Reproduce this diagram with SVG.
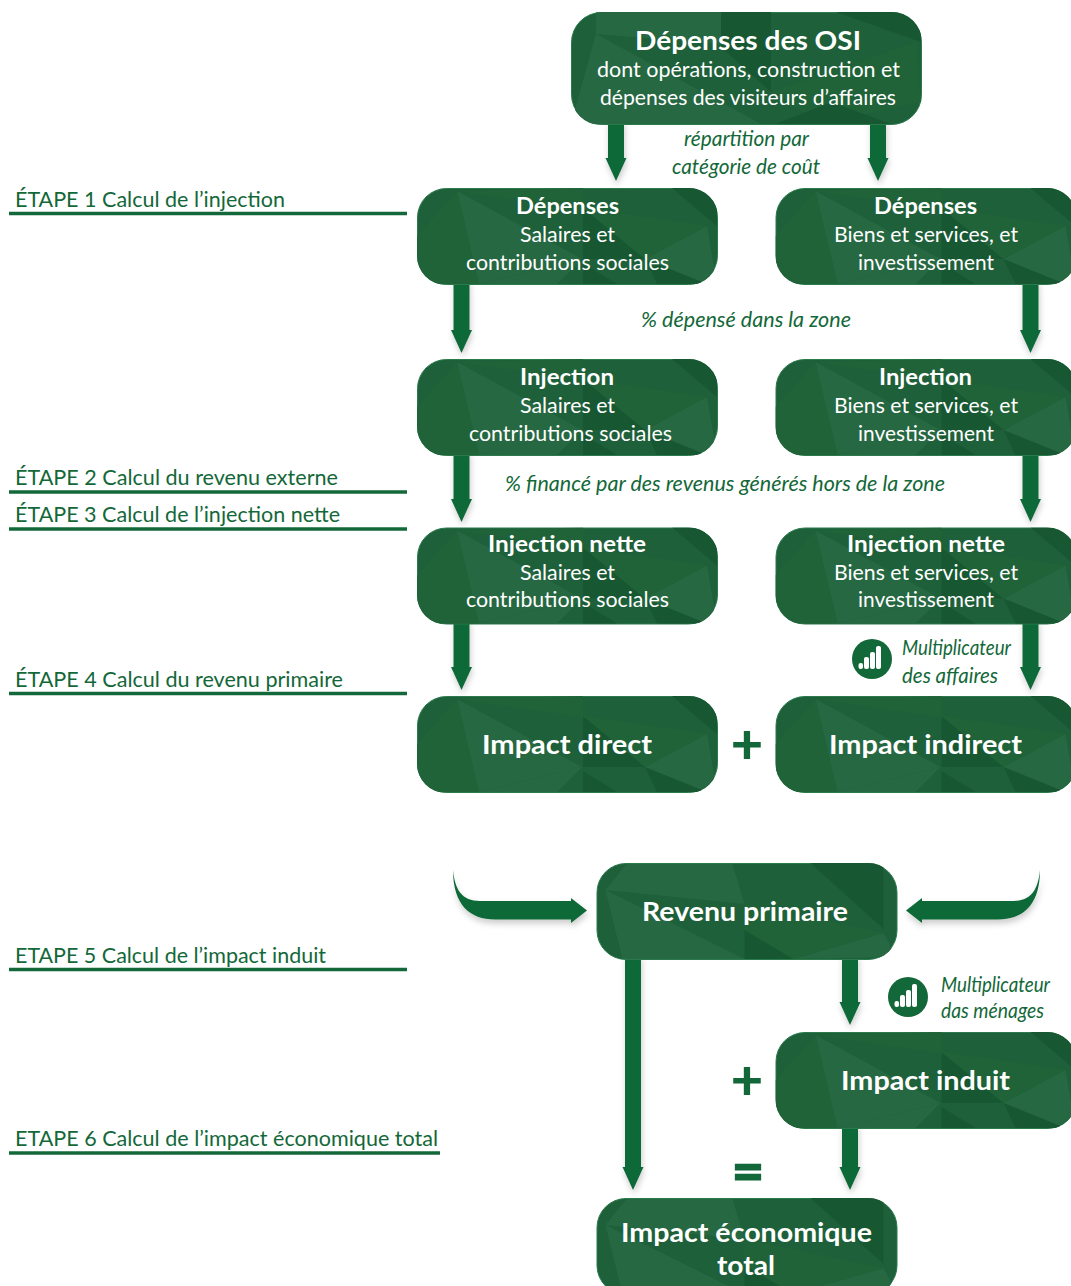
<svg xmlns="http://www.w3.org/2000/svg" width="1071" height="1286" viewBox="0 0 1071 1286">
<style>
text{font-family:"Lato","Open Sans","Liberation Sans",sans-serif;text-anchor:middle}
.h{fill:#fff;font-weight:700;font-size:22px}
.b{fill:#fff;font-weight:700;font-size:27px}
.s{fill:#fff;font-size:21.5px}
.i{fill:#136839;font-style:italic;font-size:21px}
.e{fill:#136839;font-size:22px;text-anchor:start}
.o{fill:#136839;font-size:56px;font-weight:900;text-anchor:middle}
.eq{stroke:#136839;stroke-width:1.2}
.r{stroke:#136839;stroke-width:3.5}
.a{stroke:#116939;stroke-width:16;fill:none;marker-end:url(#ah)}
.c{fill:#116939}
.base{fill:#1e6039;stroke:#2a7a4c;stroke-width:1}
.l{fill:#266842}
.d{fill:#175833}
.m{fill:#206339}
</style>
<defs>
<marker id="ah" markerUnits="userSpaceOnUse" markerWidth="24" markerHeight="24" refX="0" refY="12" orient="auto" viewBox="0 0 24 24"><path d="M0 1.500L23 12L0 22.500Z" fill="#116939"/></marker>
<filter id="sh" x="-5%" y="-5%" width="110%" height="110%"><feDropShadow dx="1" dy="4" stdDeviation="3" flood-color="#000" flood-opacity=".2"/></filter>
<clipPath id="cp"><rect x="0" y="0" width="301" height="97" rx="29"/></clipPath>
<clipPath id="cq"><rect x="0" y="0" width="351" height="113" rx="30"/></clipPath>
<g id="ta">
<rect class="base" x=".5" y=".5" width="300" height="96" rx="29"/>
<g clip-path="url(#cp)">
<polygon class="l" points="40,3 165,71 62,96"/>
<polygon class="m" points="0,48 40,3 62,96 0,96"/>
<polygon class="l" points="165,71 62,96 140,96"/>
<polygon class="d" points="166,20 166,71 228,71"/>
<polygon class="m" points="40,3 166,0 166,20 228,30"/>
<polygon class="l" points="228,71 290,38 300,96 270,96"/>
<polygon class="d" points="228,71 240,96 290,96"/>
<polygon class="d" points="255,0 300,0 300,38"/>
<polygon class="m" points="166,20 290,38 228,71"/>
<polygon class="d" points="166,96 166,75 200,96"/>
</g>
</g>
<g id="tb">
<rect class="base" x=".5" y=".5" width="300" height="96" rx="29"/>
<g clip-path="url(#cp)">
<polygon class="l" points="9,27 148,96 26,96"/>
<polygon class="l" points="30,1 136,1 148,41 9,27"/>
<polygon class="d" points="214,0 287,0 287,66"/>
<polygon class="d" points="148,67 197,96 148,96"/>
<polygon class="l" points="197,96 287,70 300,94"/>
<polygon class="m" points="148,41 148,67 197,96 287,70"/>
</g>
</g>
<g id="tc">
<rect class="base" x=".5" y=".5" width="350" height="112" rx="30"/>
<g clip-path="url(#cq)">
<polygon class="l" points="25,22 190,112 0,112"/>
<polygon class="l" points="25,0 150,0 190,35 25,22"/>
<polygon class="d" points="150,0 200,0 200,80 150,35"/>
<polygon class="m" points="200,80 345,30 350,90 250,112"/>
<polygon class="d" points="265,0 350,0 350,30"/>
<polygon class="d" points="205,112 260,90 320,112"/>
</g>
</g>
<g id="ic">
<circle cx="20" cy="20" r="20" fill="#136839"/>
<rect x="6.500" y="24" width="4.500" height="6" rx="2" fill="#fff"/>
<rect x="12" y="18" width="5" height="12" rx="2" fill="#fff"/>
<rect x="18" y="13" width="5" height="17" rx="2" fill="#fff"/>
<rect x="24" y="7" width="5" height="23" rx="2" fill="#fff"/>
</g>
</defs>

<g id="labels">
<text class="e" x="15" y="207" textLength="270" lengthAdjust="spacingAndGlyphs">ÉTAPE 1 Calcul de l’injection</text><line class="r" x1="9" x2="407" y1="213.500" y2="213.500"/>
<text class="e" x="15" y="485" textLength="323" lengthAdjust="spacingAndGlyphs">ÉTAPE 2 Calcul du revenu externe</text><line class="r" x1="9" x2="407" y1="492" y2="492"/>
<text class="e" x="15" y="522" textLength="325" lengthAdjust="spacingAndGlyphs">ÉTAPE 3 Calcul de l’injection nette</text><line class="r" x1="9" x2="407" y1="529" y2="529"/>
<text class="e" x="15" y="687" textLength="328" lengthAdjust="spacingAndGlyphs">ÉTAPE 4 Calcul du revenu primaire</text><line class="r" x1="9" x2="407" y1="693.500" y2="693.500"/>
<text class="e" x="15" y="963" textLength="311" lengthAdjust="spacingAndGlyphs">ETAPE 5 Calcul de l’impact induit</text><line class="r" x1="9" x2="407" y1="969.500" y2="969.500"/>
<text class="e" x="15" y="1146" textLength="423" lengthAdjust="spacingAndGlyphs">ETAPE 6 Calcul de l’impact économique total</text><line class="r" x1="9" x2="440" y1="1153" y2="1153"/>
</g>

<g id="connectors" filter="url(#sh)">
<line class="a" x1="616" y1="120" x2="616" y2="158"/>
<line class="a" x1="878" y1="120" x2="878" y2="158"/>
<line class="a" x1="461.500" y1="280" x2="461.500" y2="330"/>
<line class="a" x1="1030.500" y1="280" x2="1030.500" y2="330"/>
<line class="a" x1="461.500" y1="451" x2="461.500" y2="499"/>
<line class="a" x1="1030.500" y1="451" x2="1030.500" y2="499"/>
<line class="a" x1="461.500" y1="620" x2="461.500" y2="667"/>
<line class="a" x1="1030.500" y1="620" x2="1030.500" y2="667"/>
<line class="a" x1="633" y1="955" x2="633" y2="1167"/>
<line class="a" x1="850" y1="955" x2="850" y2="1002"/>
<line class="a" x1="850" y1="1124" x2="850" y2="1167"/>
<path class="c" d="M453 870C455 890 462 901 480 901L571 901L571 898L587 910.500L571 923L571 919.500L495 919.500C470 919.500 453 905 453 870Z"/>
<path class="c" d="M1040 870C1038 890 1031 901 1013 901L922 901L922 898L906 910.500L922 923L922 919.500L998 919.500C1023 919.500 1040 905 1040 870Z"/>
</g>

<g id="edge-labels">
<text class="i" x="746.500" y="146" textLength="125" lengthAdjust="spacingAndGlyphs">répartition par</text>
<text class="i" x="746" y="174" textLength="148" lengthAdjust="spacingAndGlyphs">catégorie de coût</text>
<text class="i" x="746" y="327" textLength="210" lengthAdjust="spacingAndGlyphs">% dépensé dans la zone</text>
<text class="i" x="725" y="491" textLength="440" lengthAdjust="spacingAndGlyphs">% financé par des revenus générés hors de la zone</text>
<text class="i" x="956.500" y="655" textLength="109" lengthAdjust="spacingAndGlyphs">Multiplicateur</text>
<text class="i" x="950" y="683" textLength="96" lengthAdjust="spacingAndGlyphs">des affaires</text>
<text class="i" x="995.500" y="992" textLength="109" lengthAdjust="spacingAndGlyphs">Multiplicateur</text>
<text class="i" x="992.500" y="1018" textLength="103" lengthAdjust="spacingAndGlyphs">das ménages</text>
<use href="#ic" x="852" y="639"/>
<use href="#ic" x="888" y="977"/>
<text class="o" x="747" y="764">+</text>
<text class="o" x="747" y="1100">+</text>
<text class="o eq" x="748" y="1191">=</text>
</g>

<g id="n-osi"><use href="#tc" x="571" y="12"/>
<text class="b" x="748" y="49.500" textLength="226" lengthAdjust="spacingAndGlyphs">Dépenses des OSI</text>
<text class="s" x="748.500" y="76.500" textLength="303" lengthAdjust="spacingAndGlyphs">dont opérations, construction et</text>
<text class="s" x="748" y="104.500" textLength="296" lengthAdjust="spacingAndGlyphs">dépenses des visiteurs d’affaires</text></g>

<g id="n-dep-sal"><use href="#ta" x="417" y="188"/>
<text class="h" x="567.500" y="214" textLength="103" lengthAdjust="spacingAndGlyphs">Dépenses</text>
<text class="s" x="567.500" y="241.500" textLength="95" lengthAdjust="spacingAndGlyphs">Salaires et</text>
<text class="s" x="567.500" y="269.500" textLength="203" lengthAdjust="spacingAndGlyphs">contributions sociales</text></g>
<g id="n-dep-bie"><use href="#ta" x="775.500" y="188"/>
<text class="h" x="925.500" y="214" textLength="103" lengthAdjust="spacingAndGlyphs">Dépenses</text>
<text class="s" x="926" y="241.500" textLength="184" lengthAdjust="spacingAndGlyphs">Biens et services, et</text>
<text class="s" x="926" y="269.500" textLength="136" lengthAdjust="spacingAndGlyphs">investissement</text></g>

<g id="n-inj-sal"><use href="#ta" x="417" y="359"/>
<text class="h" x="567" y="385" textLength="94" lengthAdjust="spacingAndGlyphs">Injection</text>
<text class="s" x="567.500" y="412.500" textLength="95" lengthAdjust="spacingAndGlyphs">Salaires et</text>
<text class="s" x="570.500" y="440.500" textLength="203" lengthAdjust="spacingAndGlyphs">contributions sociales</text></g>
<g id="n-inj-bie"><use href="#ta" x="775.500" y="359"/>
<text class="h" x="925.500" y="385" textLength="93" lengthAdjust="spacingAndGlyphs">Injection</text>
<text class="s" x="926" y="412.500" textLength="184" lengthAdjust="spacingAndGlyphs">Biens et services, et</text>
<text class="s" x="926" y="440.500" textLength="136" lengthAdjust="spacingAndGlyphs">investissement</text></g>

<g id="n-net-sal"><use href="#ta" x="417" y="527.500"/>
<text class="h" x="567" y="552" textLength="158" lengthAdjust="spacingAndGlyphs">Injection nette</text>
<text class="s" x="567.500" y="579.500" textLength="95" lengthAdjust="spacingAndGlyphs">Salaires et</text>
<text class="s" x="567.500" y="606.500" textLength="203" lengthAdjust="spacingAndGlyphs">contributions sociales</text></g>
<g id="n-net-bie"><use href="#ta" x="775.500" y="527.500"/>
<text class="h" x="926" y="552" textLength="158" lengthAdjust="spacingAndGlyphs">Injection nette</text>
<text class="s" x="926" y="579.500" textLength="184" lengthAdjust="spacingAndGlyphs">Biens et services, et</text>
<text class="s" x="926" y="606.500" textLength="136" lengthAdjust="spacingAndGlyphs">investissement</text></g>

<g id="n-direct"><use href="#ta" x="417" y="696"/>
<text class="b" x="567" y="753.500" textLength="170" lengthAdjust="spacingAndGlyphs">Impact direct</text></g>
<g id="n-indirect"><use href="#ta" x="775.500" y="696"/>
<text class="b" x="925.500" y="753.500" textLength="193" lengthAdjust="spacingAndGlyphs">Impact indirect</text></g>

<g id="n-revenu"><use href="#tb" x="596.500" y="863"/>
<text class="b" x="745" y="920.500" textLength="206" lengthAdjust="spacingAndGlyphs">Revenu primaire</text></g>
<g id="n-induit"><use href="#ta" x="775.500" y="1032"/>
<text class="b" x="925.500" y="1089.500" textLength="169" lengthAdjust="spacingAndGlyphs">Impact induit</text></g>
<g id="n-total"><use href="#tb" x="596.500" y="1198"/>
<text class="b" x="746.500" y="1242" textLength="251" lengthAdjust="spacingAndGlyphs">Impact économique</text>
<text class="b" x="746" y="1274.500" textLength="58" lengthAdjust="spacingAndGlyphs">total</text></g>
</svg>
